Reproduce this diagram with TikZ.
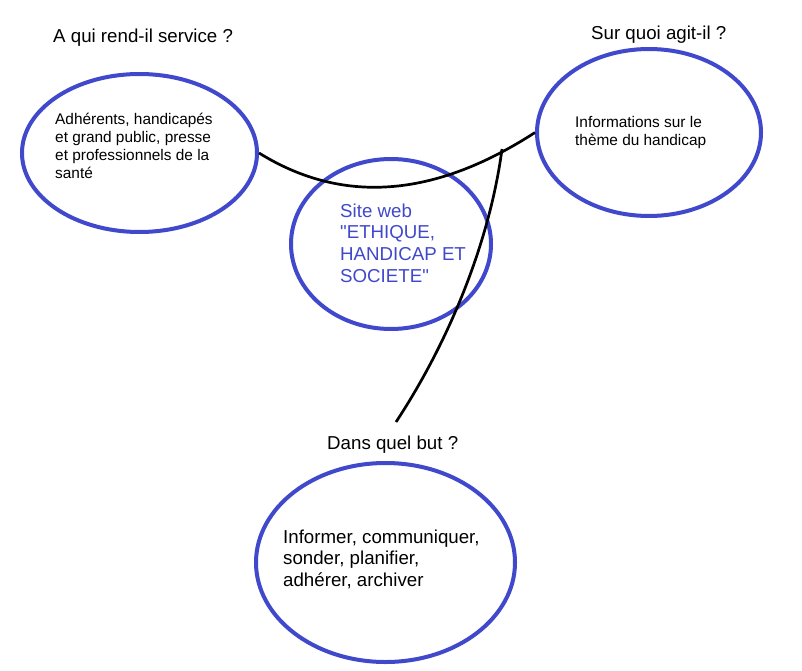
\documentclass[tikz,border=0pt]{standalone}
\usepackage{fontspec}
\setmainfont{Liberation Sans}
\usetikzlibrary{shapes.geometric}
\definecolor{ovalblue}{RGB}{64,72,204}
\tikzset{
  oval/.style={draw=ovalblue, line width=4pt, ellipse, inner sep=0pt},
  smalltxt/.style={anchor=base west, inner sep=0pt, align=left, font=\fontsize{15.4}{17.8}\selectfont, text=black},
  bigtxt/.style={anchor=base west, inner sep=0pt, align=left, font=\fontsize{18.7}{21.8}\selectfont, text=black},
  link/.style={draw=black, line width=2.7pt}
}
\begin{document}
\begin{tikzpicture}[x=1pt,y=-1pt]
\useasboundingbox[fill=white] (0,0) rectangle (802,671);
% ellipses
\node[oval, minimum width=235pt, minimum height=158pt] (L) at (139.5,153) {};
\node[oval, minimum width=224pt, minimum height=167pt] (R) at (649,132.5) {};
\node[oval, minimum width=200pt, minimum height=170pt] (C) at (391,244) {};
\node[oval, minimum width=259pt, minimum height=199pt] (B) at (385.5,562.5) {};
% titles
\node[bigtxt] (tL) at (53,43) {A qui rend-il service ?};
\node[bigtxt] (tR) at (591,40) {Sur quoi agit-il ?};
\node[bigtxt] (tB) at (327,449) {Dans quel but ?};
% contents (anchor = baseline of last line)
\node[smalltxt] (xL) at (55,178.4) {Adhérents, handicapés\\et grand public, presse\\et professionnels de la\\santé};
\node[smalltxt] (xR) at (575,145.8) {Informations sur le\\thème du handicap};
\node[bigtxt, text=ovalblue] (xC) at (340,282.4) {Site web\\\textquotedbl ETHIQUE,\\HANDICAP ET\\SOCIETE\textquotedbl};
\node[bigtxt] (xB) at (283,586.6) {Informer, communiquer,\\sonder, planifier,\\adhérer, archiver};
% connectors
\coordinate (j) at (502,149);
\coordinate (e) at (396,422);
\draw[link] (L.east) .. controls (330,197) and (420,207) .. (R.west);
\draw[link] (j) .. controls (490,240) and (450,340) .. (e);
\end{tikzpicture}
\end{document}
